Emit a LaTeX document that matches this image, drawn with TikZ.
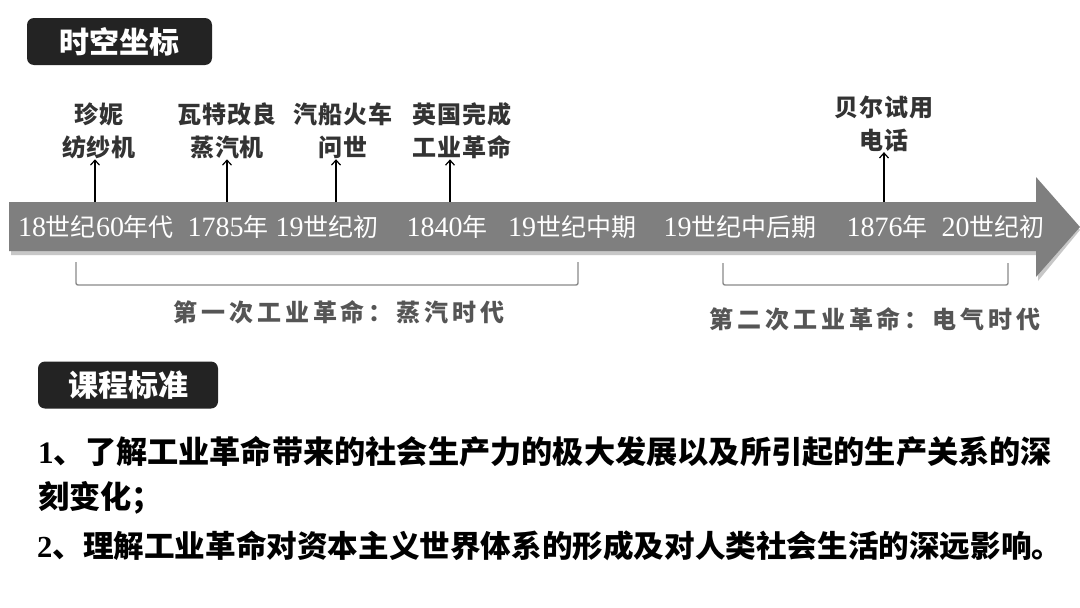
\documentclass[tikz,border=0pt]{standalone}
\usepackage{fontspec}
\setmainfont{Liberation Serif}
\newfontfamily\cjk{Noto Sans CJK SC}
\newfontfamily\cjksp{Noto Sans CJK SC}[LetterSpace=16]
\newfontfamily\cjkev{Noto Sans CJK SC}[LetterSpace=4]
\newcommand\digs[1]{{\rmfamily #1}}
\newcommand\bigdigs[1]{{\rmfamily\fontsize{28}{28}\selectfont #1}}
\usetikzlibrary{arrows.meta}
\definecolor{bandgray}{HTML}{7F7F7F}
\definecolor{boxdark}{HTML}{232323}
\definecolor{evtext}{HTML}{333333}
\definecolor{eratext}{HTML}{555555}
\definecolor{brk}{HTML}{8A8A8A}
\tikzset{
  titlebox/.style={fill=boxdark, rounded corners=7pt, minimum width=#1, minimum height=47pt, inner sep=0pt,
    text=white, font=\cjk\bfseries\fontsize{30}{30}\selectfont},
  bandlabel/.style={text=white, inner sep=0pt, font=\cjk\fontsize{25}{25}\selectfont},
  evlabel/.style={text=evtext, inner sep=0pt, align=center, font=\cjkev\bfseries\fontsize{24}{33}\selectfont},
  evarrow/.style={draw=black, line width=1.4pt, -{Straight Barb[length=5pt,width=9pt,line width=1.2pt]}},
  bracket/.style={draw=brk, line width=1.4pt, rounded corners=2pt},
  eralabel/.style={text=eratext, inner sep=0pt, font=\cjksp\bfseries\fontsize{24}{24}\selectfont},
  bodyline/.style={anchor=west, inner sep=0pt, text=black, font=\cjk\bfseries\fontsize{#1}{#1}\selectfont}
}
\begin{document}
\begin{tikzpicture}[x=1pt, y=-1pt]
\useasboundingbox (0,0) rectangle (1080,608);
\fill[white] (0,0) rectangle (1080,608);

% title 1
\node[titlebox=185pt] (t1) at (119.5,41.5) {时空坐标};

% band shadow and band
\fill[black!22] (11,205) -- (1038,205) -- (1038,181) -- (1080,230) -- (1038,281) -- (1038,255) -- (11,255) -- cycle;
\fill[bandgray] (9,202) -- (1036,202) -- (1036,177) -- (1080,227) -- (1036,277) -- (1036,251) -- (9,251) -- cycle;

% band labels
\node[bandlabel] (d1) at (96,227) {\bigdigs{18}世纪\bigdigs{60}年代};
\node[bandlabel] (d2) at (228,227) {\bigdigs{1785}年};
\node[bandlabel] (d3) at (327,227) {\bigdigs{19}世纪初};
\node[bandlabel] (d4) at (447,227) {\bigdigs{1840}年};
\node[bandlabel] (d5) at (572,227) {\bigdigs{19}世纪中期};
\node[bandlabel] (d6) at (740,227) {\bigdigs{19}世纪中后期};
\node[bandlabel] (d7) at (887,227) {\bigdigs{1876}年};
\node[bandlabel] (d8) at (993,227) {\bigdigs{20}世纪初};

% event labels
\node[evlabel] (e1) at (99,131) {珍妮\\纺纱机};
\node[evlabel] (e2) at (227,131) {瓦特改良\\蒸汽机};
\node[evlabel] (e3) at (343,131) {汽船火车\\问世};
\node[evlabel] (e4) at (462,131) {英国完成\\工业革命};
\node[evlabel] (e5) at (884,124) {贝尔试用\\电话};

% arrow roots on the band
\coordinate (b1) at (95,202);
\coordinate (b2) at (227,202);
\coordinate (b3) at (336,202);
\coordinate (b4) at (450,202);
\coordinate (b5) at (884,202);
\draw[evarrow] (b1) -- (b1 |- e1.south);
\draw[evarrow] (b2) -- (b2 |- e2.south);
\draw[evarrow] (b3) -- (b3 |- e3.south);
\draw[evarrow] (b4) -- (b4 |- e4.south);
\draw[evarrow] (b5) -- (b5 |- e5.south);

% brackets
\draw[bracket] (76,262) -- (76,285) -- (578,285) -- (578,262);
\draw[bracket] (723,263) -- (723,285) -- (1008,285) -- (1008,263);

% era labels
\node[eralabel] (era1) at (339,312) {第一次工业革命：蒸汽时代};
\node[eralabel] (era2) at (875,319) {第二次工业革命：电气时代};

% title 2
\node[titlebox=180pt] (t2) at (128,385) {课程标准};

% body
\node[bodyline=31.2] (l1) at (38,452) {\digs{1}、了解工业革命带来的社会生产力的极大发展以及所引起的生产关系的深};
\node[bodyline=31.2] (l2) at (38,498) {刻变化；};
\node[bodyline=30.6] (l3) at (37,546) {\digs{2}、理解工业革命对资本主义世界体系的形成及对人类社会生活的深远影响。};
\end{tikzpicture}
\end{document}
